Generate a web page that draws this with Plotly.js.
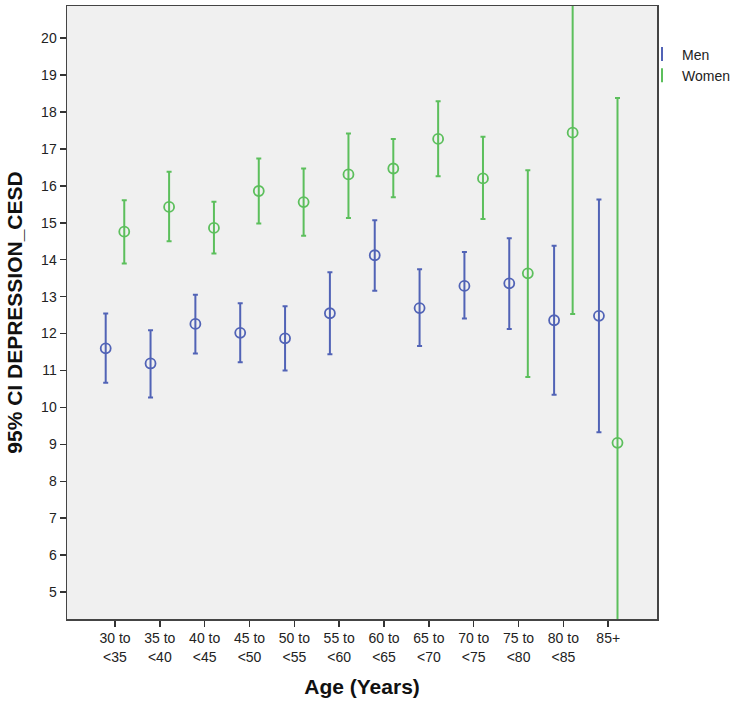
<!DOCTYPE html>
<html>
<head>
<meta charset="utf-8">
<script src="https://cdn.plot.ly/plotly-3.0.1.min.js"></script>
<style>html,body{margin:0;padding:0;background:#fff;}</style>
</head>
<body>
<div id="chart" style="width:735px;height:708px;"></div>
<script>
// Data
const ageGroups = ["30 to<br><35","35 to<br><40","40 to<br><45","45 to<br><50","50 to<br><55","55 to<br><60","60 to<br><65","65 to<br><70","70 to<br><75","75 to<br><80","80 to<br><85","85+"];

const menMean  = [11.60, 11.19, 12.26, 12.02, 11.87, 12.55, 14.12, 12.69, 13.29, 13.36, 12.36, 12.48];
const menUpper = [12.54, 12.09, 13.05, 12.82, 12.74, 13.66, 15.07, 13.74, 14.21, 14.58, 14.38, 15.63];
const menLower = [10.67, 10.27, 11.46, 11.22, 11.00, 11.44, 13.16, 11.66, 12.41, 12.12, 10.34,  9.33];

const womenMean  = [14.76, 15.43, 14.86, 15.86, 15.56, 16.31, 16.47, 17.27, 16.20, 13.63, 17.44,  9.04];
const womenUpper = [15.61, 16.38, 15.57, 16.74, 16.47, 17.42, 17.27, 18.29, 17.33, 16.42, 22.35, 18.38];
const womenLower = [13.90, 14.50, 14.17, 14.98, 14.65, 15.13, 15.69, 16.26, 15.10, 10.82, 12.53, -0.30];

const menColor = "#5163b6";
const womenColor = "#5cbf5c";
const offset = 0.207;

const idx = ageGroups.map((_, i) => i);

function trace(name, mean, upper, lower, color, dx) {
  return {
    type: "scatter",
    mode: "markers",
    name: name,
    legendgroup: name,
    showlegend: false,
    x: idx.map(i => i + dx),
    y: mean,
    marker: {symbol: "circle-open", size: 10, color: color, line: {width: 1.8, color: color}},
    error_y: {
      type: "data", symmetric: false,
      array: upper.map((u, i) => u - mean[i]),
      arrayminus: lower.map((l, i) => mean[i] - l),
      color: color, thickness: 2, width: 2.5
    },
    hoverinfo: "x+y"
  };
}

function legendTrace(name, color) {
  return {
    type: "scatter", mode: "markers", name: name, legendgroup: name,
    x: [null], y: [null], showlegend: true,
    marker: {symbol: "line-ns-open", size: 10, color: color, line: {width: 2, color: color}}
  };
}

const data = [
  trace("Men", menMean, menUpper, menLower, menColor, -offset),
  trace("Women", womenMean, womenUpper, womenLower, womenColor, offset),
  legendTrace("Men", menColor),
  legendTrace("Women", womenColor)
];

const layout = {
  width: 735, height: 708,
  margin: {l: 67, r: 0, t: 6, b: 89},
  paper_bgcolor: "#ffffff",
  plot_bgcolor: "#f0f0f0",
  font: {family: "Liberation Sans, Arial, sans-serif", size: 13, color: "#222"},
  showlegend: true,
  legend: {
    x: 0.862, xanchor: "left", y: 0.947, yanchor: "top",
    bgcolor: "rgba(0,0,0,0)", font: {size: 14, color: "#222"},
    itemwidth: 30, tracegroupgap: 0
  },
  xaxis: {
    domain: [0, 0.8847],
    range: [-1.07, 12.09],
    tickmode: "array", tickvals: idx, ticktext: ageGroups,
    ticks: "outside", ticklen: 6, tickwidth: 1.5, tickcolor: "#333",
    showgrid: false, zeroline: false,
    showline: true, mirror: true, linecolor: "#444", linewidth: 1.5,
    tickfont: {size: 14, color: "#222"},
    title: {text: "Age (Years)", font: {size: 21, color: "#111", weight: "bold"}, standoff: 16}
  },
  yaxis: {
    range: [4.27, 20.87],
    tickmode: "linear", tick0: 5, dtick: 1,
    ticks: "outside", ticklen: 6, tickwidth: 1.5, tickcolor: "#333",
    showgrid: false, zeroline: false,
    showline: true, mirror: true, linecolor: "#444", linewidth: 1.5,
    tickfont: {size: 14, color: "#222"},
    title: {text: "95% CI DEPRESSION_CESD", font: {size: 21, color: "#111", weight: "bold"}, standoff: 13}
  }
};

Plotly.newPlot("chart", data, layout, {displayModeBar: false, staticPlot: true});
</script>
</body>
</html>
